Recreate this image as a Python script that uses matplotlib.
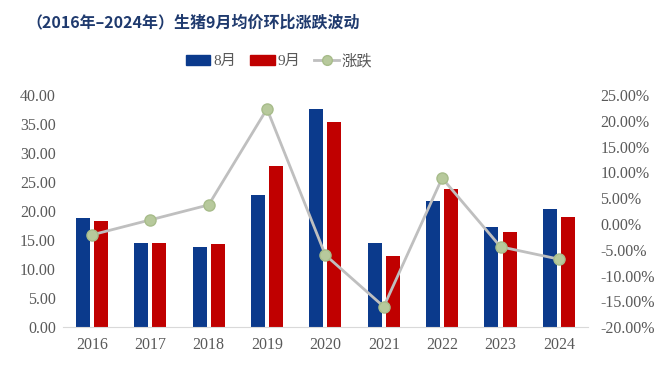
import matplotlib
matplotlib.use("Agg")
import matplotlib.pyplot as plt
import numpy as np
from matplotlib.lines import Line2D
from matplotlib.patches import Patch

years = ["2016", "2017", "2018", "2019", "2020", "2021", "2022", "2023", "2024"]
aug = [18.8, 14.5, 13.8, 22.7, 37.5, 14.5, 21.7, 17.2, 20.3]
sep = [18.3, 14.5, 14.3, 27.8, 35.3, 12.2, 23.8, 16.4, 19.0]
chg = [-2.1, 0.8, 3.7, 22.3, -6.0, -16.0, 8.9, -4.4, -6.8]
left_ticks = [0, 5, 10, 15, 20, 25, 30, 35, 40]
right_ticks = [-20, -15, -10, -5, 0, 5, 10, 15, 20, 25]

serif = ["Liberation Serif", "Noto Sans CJK SC"]
blue = "#0B3A8C"
red = "#C00000"
tick_color = "#595959"

fig = plt.figure(figsize=(6.6, 3.68), dpi=100)
ax = fig.add_axes([0.095, 0.1106, 0.796, 0.6314])
ax2 = ax.twinx()

x = np.arange(len(years))
w = 0.24
gap = 0.035
ax.bar(x - w / 2 - gap, aug, width=w, color=blue, zorder=2)
ax.bar(x + w / 2 + gap, sep, width=w, color=red, zorder=2)
ax.set_ylim(0, 40)
ax.set_xlim(-0.5, len(years) - 0.5)
ax.set_yticks(left_ticks)
ax.set_yticklabels([f"{v:.2f}" for v in left_ticks], family=serif, fontsize=11.5, color=tick_color)
ax.set_xticks(x)
ax.set_xticklabels(years, family=serif, fontsize=11.5, color=tick_color)

ax2.plot(x, chg, color="#BFBFBF", lw=2, marker="o", ms=8,
         markerfacecolor="#B7C99C", markeredgecolor="#A7BC8A", markeredgewidth=1, zorder=3)
ax2.set_ylim(-20, 25)
ax2.set_yticks(right_ticks)
ax2.set_yticklabels([f"{v:.2f}%" for v in right_ticks], family=serif, fontsize=11.5, color=tick_color)

for a in (ax, ax2):
    for s in a.spines.values():
        s.set_visible(False)
    a.tick_params(length=0)
ax.spines["bottom"].set_visible(True)
ax.spines["bottom"].set_color("#D9D9D9")
ax.tick_params(axis="y", pad=5)
ax.tick_params(axis="x", pad=7)
ax2.tick_params(axis="y", pad=9)

fig.text(0.040, 0.94, "（2016年–2024年）生猪9月均价环比涨跌波动", family=["Noto Sans CJK SC", "DejaVu Sans"],
         fontsize=11.5, fontweight="bold", color="#1F3A6E", va="center", ha="left")

handles = [Patch(color=blue), Patch(color=red),
           Line2D([0], [0], color="#BFBFBF", lw=2, marker="o", ms=7,
                  markerfacecolor="#B7C99C", markeredgecolor="#A7BC8A")]
fig.legend(handles, ["8月", "9月", "涨跌"], loc="center", bbox_to_anchor=(0.423, 0.834), ncol=3,
           frameon=False, prop={"family": serif, "size": 11}, labelcolor=tick_color,
           handlelength=1.6, handleheight=0.55, columnspacing=0.9, handletextpad=0.2)

fig.savefig("out.png", dpi=100)
